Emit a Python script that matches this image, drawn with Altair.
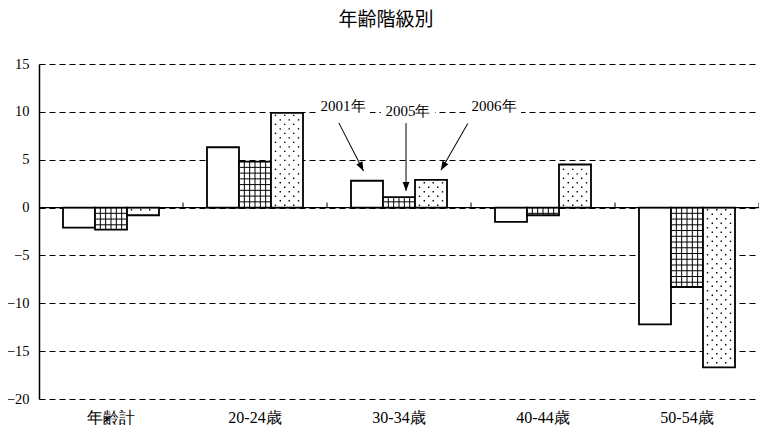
import altair as alt
import pandas as pd
import math

# ---------------- data ----------------
categories = ["年齢計", "20-24歳", "30-34歳", "40-44歳", "50-54歳"]
series = ["2001年", "2005年", "2006年"]
v2001 = [-2.1, 6.3, 2.8, -1.5, -12.2]
v2005 = [-2.3, 4.8, 1.1, -0.8, -8.3]
v2006 = [-0.8, 9.9, 2.9, 4.5, -16.7]
y_ticks = [-20, -15, -10, -5, 0, 5, 10, 15]
title_text = "年齢階級別"

# annotations: anchored on the "30-34歳" band; offsets in bar-width units
ann_labels = ["2001年", "2005年", "2006年"]
ann_off = [-0.25, 1.78, 4.47]
ann_y = [10.63, 10.10, 10.63]
arr_off1 = [-0.38, 1.72, 3.65]
arr_y1 = [8.85, 8.82, 8.79]
arr_off2 = [0.39, 1.72, 2.81]
arr_y2 = [3.83, 1.74, 3.90]

# ---------------- style ----------------
W, H = 720, 335
Y_DOMAIN = [-20, 15]
SERIF = "Liberation Serif"
GSTEP = 0.6
DSTEP = 0.47
BAR_PX = 32
PX_PER_UNIT = H / (Y_DOMAIN[1] - Y_DOMAIN[0])

rows = []
for s, vals in zip(series, [v2001, v2005, v2006]):
    for c, v in zip(categories, vals):
        rows.append({"cat": c, "series": s, "value": v})
bars_df = pd.DataFrame(rows)

def sgn(v):
    return 1 if v >= 0 else -1

gh_rows, gv_rows = [], []
for c, v in zip(categories, v2005):
    k = 1
    while k * GSTEP < abs(v) - 0.15:
        gh_rows.append({"cat": c, "off": 1.5, "y": sgn(v) * k * GSTEP})
        k += 1
    for j in range(1, 6):
        gv_rows.append({"cat": c, "off": 1 + j / 6, "y": 0, "y2": v})
gh_df = pd.DataFrame(gh_rows)
gv_df = pd.DataFrame(gv_rows)

d_rows = []
cols_even = [0.14, 0.43, 0.71]
cols_odd = [0.29, 0.57, 0.86]
for c, v in zip(categories, v2006):
    k = 0
    while (k + 0.5) * DSTEP < abs(v) - 0.1:
        for o in (cols_even if k % 2 == 0 else cols_odd):
            d_rows.append({"cat": c, "off": 2 + o, "y": sgn(v) * (k + 0.5) * DSTEP})
        k += 1
dots_df = pd.DataFrame(d_rows)

tick_df = pd.DataFrame({"cat": categories[1:] + [categories[-1]],
                        "off": [-0.75] * 4 + [3.75], "y": [0] * 5})

anchor = categories[2]
ann_df = pd.DataFrame({"cat": [anchor] * 3, "label": ann_labels, "off": ann_off, "y": ann_y})

arr_rows = []
for o1, y1, o2, y2 in zip(arr_off1, arr_y1, arr_off2, arr_y2):
    dx = (o2 - o1) * BAR_PX
    dy = (y1 - y2) * PX_PER_UNIT
    length = math.hypot(dx, dy)
    ang = (-math.degrees(math.atan2(dx, dy))) % 360
    arr_rows.append({"cat": anchor, "off": (o1 + o2) / 2, "y": (y1 + y2) / 2,
                     "size": length ** 2, "ang": ang, "toff": o2, "ty": y2})
arr_df = pd.DataFrame(arr_rows)

xscale = alt.Scale(type="band", domain=categories, paddingInner=1 / 3, paddingOuter=1 / 6)
yscale = alt.Scale(domain=Y_DOMAIN, nice=False)
off_scale = alt.Scale(domain=[0, 3], range=[0, 96], nice=False, zero=False)

XAX = alt.Axis(orient="bottom", domain=False, ticks=False, tickSize=0, grid=False,
               labelAngle=0, labelFont=SERIF, labelFontSize=16, labelColor="black",
               labelPadding=10, title=None)
YAX = alt.Axis(values=y_ticks, grid=True, gridDash=[6, 4], gridColor="black",
               gridWidth=1, gridOpacity=1, domain=True, domainColor="black",
               domainWidth=1.5, ticks=False, tickSize=0, labelFont=SERIF,
               labelFontSize=14.5, labelColor="black", labelPadding=10, title=None)

def X():
    return alt.X("cat:N", scale=xscale, sort=categories, axis=XAX, title=None)

def Y(field="y:Q"):
    return alt.Y(field, scale=yscale, axis=YAX, title=None)

OFF = alt.XOffset("off:Q", scale=off_scale)

bar_layer = alt.Chart(bars_df).mark_bar(fill="white", stroke="black", strokeWidth=1.8).encode(
    x=X(),
    xOffset=alt.XOffset("series:N", sort=series,
                        scale=alt.Scale(domain=series, paddingInner=0, paddingOuter=0)),
    y=Y("value:Q"),
    y2=alt.datum(0),
)

zero_line = alt.Chart(pd.DataFrame({"z": [0]})).mark_rule(color="black", strokeWidth=1.3).encode(
    y=Y("z:Q"))

tick_layer = alt.Chart(tick_df).mark_point(shape="M0,0L0,-1", size=100, stroke="black",
                                           strokeWidth=1, filled=False, opacity=1).encode(
    x=X(), xOffset=OFF, y=Y())

gh_layer = alt.Chart(gh_df).mark_point(shape="M-1,0L1,0", size=30 * 30, stroke="black",
                                       strokeWidth=1, filled=False, opacity=1).encode(
    x=X(), xOffset=OFF, y=Y())

gv_layer = alt.Chart(gv_df).mark_rule(color="black", strokeWidth=1).encode(
    x=X(), xOffset=OFF, y=Y(), y2="y2:Q")

dots_layer = alt.Chart(dots_df).mark_square(size=2, color="black", opacity=1).encode(
    x=X(), xOffset=OFF, y=Y())

box_layer = alt.Chart(ann_df).mark_point(shape="M-1,-0.3L1,-0.3L1,0.3L-1,0.3Z", size=54 * 54,
                                         filled=True, color="white", opacity=1).encode(
    x=X(), xOffset=OFF, y=Y())

text_layer = alt.Chart(ann_df).mark_text(font=SERIF, fontSize=15, color="black",
                                         baseline="middle", align="center").encode(
    x=X(), xOffset=OFF, y=Y(), text="label:N")

arrow_layer = alt.Chart(arr_df).mark_point(shape="M0,-1L0,1", filled=False, stroke="black",
                                           strokeWidth=1, opacity=1).encode(
    x=X(), xOffset=OFF, y=Y(),
    size=alt.Size("size:Q", scale=None),
    angle=alt.Angle("ang:Q", scale=None))

head_layer = alt.Chart(arr_df).mark_point(shape="M0,0L-0.38,-1L0.38,-1Z", size=324,
                                          filled=True, color="black", opacity=1).encode(
    x=X(), xOffset=alt.XOffset("toff:Q", scale=off_scale), y=Y("ty:Q"),
    angle=alt.Angle("ang:Q", scale=None))

chart = alt.layer(
    bar_layer, gh_layer, gv_layer, dots_layer, zero_line, tick_layer,
    box_layer, text_layer, arrow_layer, head_layer,
).resolve_scale(xOffset="independent").properties(
    width=W, height=H, background="white",
    title=alt.TitleParams(title_text, font="Noto Sans CJK JP", fontSize=19, fontWeight="normal",
                          color="black", anchor="middle", dx=-13, offset=7, baseline="bottom"),
    autosize=alt.AutoSizeParams(type="none"),
    padding={"left": 31, "top": 56, "right": 0, "bottom": 30},
).configure(font=SERIF).configure_axis(labelFont=SERIF).configure_view(strokeWidth=0)

chart.save("out.html", embed_options={"renderer": "svg", "actions": False})
